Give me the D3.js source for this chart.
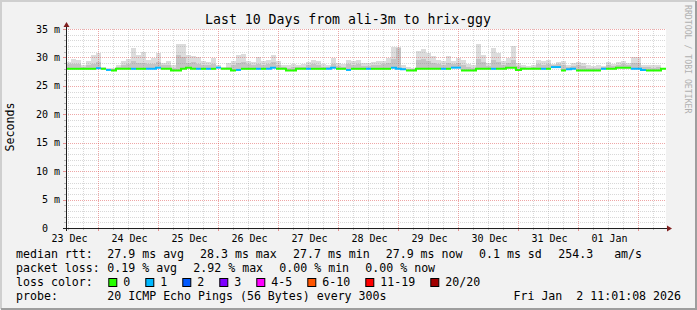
<!DOCTYPE html>
<html>
<head>
<meta charset="utf-8">
<script src="https://cdn.jsdelivr.net/npm/d3@7"></script>
<style>
  body { margin: 0; background: #f2f2f2; }
  text { font-family: "DejaVu Sans Mono", monospace; white-space: pre; }
</style>
</head>
<body>
<script>
// dimensions
var width = 697;
var height = 310;

var plot = { left: 66, right: 666, top: 29, bottom: 228 };

// time range of the graph (10 days, 2 hour columns)
var startTime = Date.UTC(2025, 11, 23, 11, 1, 8);
var endTime = Date.UTC(2026, 0, 2, 11, 1, 8);
var stepMs = 2 * 3600 * 1000;

// median rtt per column, ms
var median = [
  28.0, 28.0, 28.0, 28.0, 28.0, 28.0, 28.1, 28.0, 27.8, 27.7,
  28.0, 28.0, 28.0, 28.0, 28.0, 28.0, 28.0, 28.0, 28.2, 28.0,
  28.0, 27.7, 27.7, 28.0, 28.2, 28.0, 28.0, 28.0, 28.0, 28.0,
  28.2, 28.0, 28.0, 27.7, 27.8, 28.0, 28.0, 28.0, 28.0, 28.0,
  28.0, 28.2, 28.0, 28.0, 27.7, 27.7, 28.0, 28.0, 28.0, 28.0,
  28.0, 28.0, 28.0, 28.2, 28.0, 28.0, 27.8, 28.0, 28.0, 28.0,
  28.0, 28.0, 28.0, 28.0, 28.0, 28.2, 28.0, 27.9, 27.7, 27.7,
  28.0, 28.0, 28.0, 28.0, 28.0, 28.0, 28.0, 28.2, 28.2, 27.7,
  27.7, 27.7, 28.0, 28.0, 28.0, 28.0, 28.0, 28.0, 28.2, 28.2,
  27.8, 28.0, 28.0, 28.0, 28.0, 28.0, 28.0, 28.3, 28.3, 27.7,
  27.9, 28.0, 27.7, 27.7, 27.7, 27.7, 27.7, 28.0, 28.0, 28.0,
  28.2, 28.2, 28.2, 28.0, 28.0, 27.8, 27.7, 27.7, 27.7, 28.0
];

// lost pings (out of 20) per column
var loss = [
  0, 0, 0, 0, 0, 0, 1, 0, 1, 0,
  0, 0, 0, 1, 0, 0, 1, 1, 1, 0,
  0, 0, 0, 0, 0, 0, 1, 0, 1, 0,
  1, 0, 0, 0, 1, 0, 0, 0, 1, 0,
  1, 1, 0, 0, 0, 0, 0, 0, 1, 0,
  0, 0, 1, 1, 0, 0, 1, 0, 0, 0,
  1, 0, 0, 0, 0, 1, 1, 1, 0, 0,
  0, 0, 0, 0, 0, 1, 0, 1, 1, 0,
  0, 0, 0, 0, 0, 1, 0, 0, 0, 0,
  0, 0, 0, 0, 0, 1, 0, 1, 1, 0,
  1, 1, 0, 0, 0, 0, 0, 1, 0, 0,
  0, 0, 0, 1, 1, 1, 0, 0, 0, 0
];

// slowest ping per column, ms (top of the smoke)
var smokeMax = [
  29.2, 29.8, 29.6, 28.7, 29.3, 30.5, 30.8, 28.3, 28.2, 28.2,
  28.6, 29.4, 29.8, 31.6, 30.5, 31.0, 29.6, 29.9, 30.8, 29.0,
  29.3, 28.7, 32.4, 32.3, 30.5, 30.2, 30.0, 29.3, 29.2, 29.9,
  28.6, 28.3, 29.0, 29.3, 30.5, 30.6, 29.4, 29.2, 30.0, 29.3,
  29.6, 30.5, 29.3, 28.6, 28.7, 28.8, 28.7, 28.9, 29.2, 29.6,
  29.3, 28.9, 28.7, 29.9, 29.0, 28.8, 29.6, 29.3, 29.6, 29.0,
  29.0, 29.2, 29.4, 29.4, 29.9, 31.9, 31.9, 28.6, 28.3, 28.2,
  31.1, 31.4, 30.8, 30.2, 29.6, 29.3, 30.2, 29.4, 29.9, 29.5,
  28.9, 28.6, 32.3, 30.5, 29.0, 31.7, 30.8, 29.3, 29.9, 32.0,
  29.0, 28.6, 28.5, 28.6, 29.6, 29.3, 29.6, 28.8, 29.2, 29.4,
  28.7, 29.0, 29.2, 29.0, 28.6, 28.5, 28.6, 28.5, 29.2, 28.9,
  29.2, 29.3, 29.0, 30.0, 30.0, 28.7, 28.7, 28.6, 28.7, 28.0
];

// upper part of the dense smoke per column, ms
var smokeMid = [
  28.8, 28.9, 28.9, 28.4, 28.6, 28.9, 29.2, 28.2, 27.9, 27.9,
  28.3, 28.7, 28.8, 29.3, 29.0, 29.0, 28.8, 28.9, 29.2, 28.6,
  28.6, 28.2, 30.4, 30.0, 29.0, 29.2, 28.9, 28.7, 28.6, 28.8,
  28.4, 28.1, 28.4, 28.6, 29.0, 29.2, 28.8, 28.6, 28.9, 28.7,
  28.8, 29.2, 28.7, 28.3, 28.2, 28.3, 28.4, 28.4, 28.6, 28.8,
  28.7, 28.4, 28.4, 28.9, 28.5, 28.4, 28.8, 28.6, 28.8, 28.5,
  28.5, 28.6, 28.7, 28.8, 29.0, 29.8, 31.6, 28.2, 27.9, 27.9,
  29.6, 29.8, 29.4, 29.0, 28.8, 28.7, 29.0, 28.8, 29.0, 28.7,
  28.3, 28.2, 29.8, 29.2, 28.5, 29.6, 29.2, 28.7, 29.0, 29.5,
  28.5, 28.3, 28.2, 28.3, 28.8, 28.7, 28.8, 28.6, 28.8, 28.6,
  28.3, 28.5, 28.6, 28.5, 28.2, 28.1, 28.2, 28.3, 28.6, 28.5,
  28.7, 28.8, 28.6, 29.0, 29.1, 28.4, 28.3, 28.2, 28.3, 28.0
];

// y axis labels
var yTickValues = [0, 5, 10, 15, 20, 25, 30, 35];
var yTickLabels = ["0  ", "5 m", "10 m", "15 m", "20 m", "25 m", "30 m", "35 m"];

// legend
var lossLabels = ["0", "1", "2", "3", "4-5", "6-10", "11-19", "20/20"];
var lossColors = ["#26ff00", "#00b8ff", "#0059ff", "#7e00ff", "#ff00ff", "#ff5500", "#ff0000", "#a10000"];
var rttStats = ["27.9 ms avg", "28.3 ms max", "27.7 ms min", "27.9 ms now", "0.1 ms sd", "254.3   am/s"];
var lossStats = ["0.19 % avg", "2.92 % max", "0.00 % min", "0.00 % now"];

var title = "Last 10 Days from ali-3m to hrix-ggy";
var probeText = "20 ICMP Echo Pings (56 Bytes) every 300s";
var stampText = "Fri Jan  2 11:01:08 2026";

// create an svg to draw in
var svg = d3.select("body")
  .append("svg")
  .attr("width", width)
  .attr("height", height);

// background and 3d frame
svg.append("rect")
  .attr("width", width).attr("height", height)
  .attr("fill", "#f2f2f2");
svg.append("path")
  .attr("d", "M1,309V1H696")
  .attr("fill", "none").attr("stroke", "#cfcfcf").attr("stroke-width", 2);
svg.append("path")
  .attr("d", "M1,309H696V1")
  .attr("fill", "none").attr("stroke", "#9e9e9e").attr("stroke-width", 2);

// scales
var x = d3.scaleUtc()
  .domain([startTime, endTime])
  .range([plot.left, plot.right]);

var y = d3.scaleLinear()
  .domain([0, 35])
  .range([plot.bottom, plot.top]);

// white canvas
svg.append("rect")
  .attr("x", plot.left).attr("y", plot.top)
  .attr("width", plot.right - plot.left)
  .attr("height", plot.bottom - plot.top)
  .attr("fill", "#ffffff");

var cols = median.map(function(d, i) {
  return {
    t0: startTime + i * stepMs,
    t1: startTime + (i + 1) * stepMs,
    med: d,
    max: smokeMax[i],
    mid: smokeMid[i],
    loss: loss[i]
  };
});

// smoke: light gray for the tail, darker for the dense part
var smoke = svg.append("g").attr("shape-rendering", "crispEdges");
smoke.selectAll(".tail")
  .data(cols)
  .enter().append("rect")
  .attr("class", "tail")
  .attr("x", function(d) { return x(d.t0); })
  .attr("width", function(d) { return x(d.t1) - x(d.t0); })
  .attr("y", function(d) { return y(d.max); })
  .attr("height", function(d) { return Math.max(0, y(d.med) - y(d.max)); })
  .attr("fill", "#dcdcdc");
smoke.selectAll(".dense")
  .data(cols)
  .enter().append("rect")
  .attr("class", "dense")
  .attr("x", function(d) { return x(d.t0); })
  .attr("width", function(d) { return x(d.t1) - x(d.t0); })
  .attr("y", function(d) { return y(d.mid); })
  .attr("height", function(d) { return Math.max(0, y(d.med) - y(d.mid)); })
  .attr("fill", "#c4c4c4");

// grid
var grid = svg.append("g").attr("shape-rendering", "crispEdges");
var minorY = d3.range(0, 36);
grid.selectAll(".hminor")
  .data(minorY.filter(function(v) { return v % 5 != 0; }))
  .enter().append("line")
  .attr("x1", plot.left).attr("x2", plot.right)
  .attr("y1", function(d) { return Math.round(y(d)) + 0.5; })
  .attr("y2", function(d) { return Math.round(y(d)) + 0.5; })
  .attr("stroke", "rgba(143,143,143,0.35)")
  .attr("stroke-dasharray", "1,1");

var hoursX = x.ticks(d3.utcHour.every(6)).filter(function(t) { return t.getUTCHours() != 0; });
grid.selectAll(".vminor")
  .data(hoursX)
  .enter().append("line")
  .attr("x1", function(d) { return Math.round(x(d)) + 0.5; })
  .attr("x2", function(d) { return Math.round(x(d)) + 0.5; })
  .attr("y1", plot.top).attr("y2", plot.bottom)
  .attr("stroke", "rgba(143,143,143,0.35)")
  .attr("stroke-dasharray", "1,1");

grid.selectAll(".hmajor")
  .data(yTickValues.slice(1))
  .enter().append("line")
  .attr("x1", plot.left).attr("x2", plot.right)
  .attr("y1", function(d) { return Math.round(y(d)) + 0.5; })
  .attr("y2", function(d) { return Math.round(y(d)) + 0.5; })
  .attr("stroke", "rgba(222,79,79,0.5)")
  .attr("stroke-dasharray", "1,1");

var daysX = x.ticks(d3.utcDay.every(1));
grid.selectAll(".vmajor")
  .data(daysX)
  .enter().append("line")
  .attr("x1", function(d) { return Math.round(x(d)) + 0.5; })
  .attr("x2", function(d) { return Math.round(x(d)) + 0.5; })
  .attr("y1", plot.top).attr("y2", plot.bottom)
  .attr("stroke", "rgba(222,79,79,0.5)")
  .attr("stroke-dasharray", "1,1");

// median line, one path per run of equal loss
var runs = [];
cols.forEach(function(c) {
  var last = runs[runs.length - 1];
  if (last && last.loss == c.loss) {
    last.pts.push(c);
  } else {
    runs.push({ loss: c.loss, pts: [c] });
  }
});

var medLine = d3.line()
  .curve(d3.curveStepAfter)
  .x(function(d) { return x(d.t); })
  .y(function(d) { return y(d.v); });

svg.append("g").selectAll("path")
  .data(runs)
  .enter().append("path")
  .attr("d", function(r) {
    var pts = r.pts.map(function(c) { return { t: c.t0, v: c.med }; });
    var lastc = r.pts[r.pts.length - 1];
    pts.push({ t: lastc.t1, v: lastc.med });
    return medLine(pts);
  })
  .attr("fill", "none")
  .attr("stroke", function(r) { return lossColors[r.loss]; })
  .attr("stroke-width", 2);

// axes ticks
var ticks = svg.append("g").attr("shape-rendering", "crispEdges");
ticks.selectAll(".ytick")
  .data(minorY)
  .enter().append("line")
  .attr("x1", function(d) { return d % 5 == 0 ? plot.left - 3 : plot.left - 2; })
  .attr("x2", plot.left)
  .attr("y1", function(d) { return Math.round(y(d)) + 0.5; })
  .attr("y2", function(d) { return Math.round(y(d)) + 0.5; })
  .attr("stroke", function(d) { return d % 5 == 0 ? "rgba(222,79,79,0.6)" : "rgba(143,143,143,0.6)"; });
ticks.selectAll(".xtick")
  .data(x.ticks(d3.utcHour.every(6)))
  .enter().append("line")
  .attr("x1", function(d) { return Math.round(x(d)) + 0.5; })
  .attr("x2", function(d) { return Math.round(x(d)) + 0.5; })
  .attr("y1", plot.bottom)
  .attr("y2", function(d) { return d.getUTCHours() == 0 ? plot.bottom + 3 : plot.bottom + 2; })
  .attr("stroke", function(d) { return d.getUTCHours() == 0 ? "rgba(222,79,79,0.6)" : "rgba(143,143,143,0.6)"; });

// axis lines and arrows
ticks.append("line")
  .attr("x1", plot.left - 3).attr("x2", plot.right + 3)
  .attr("y1", plot.bottom + 0.5).attr("y2", plot.bottom + 0.5)
  .attr("stroke", "#1f1f1f");
ticks.append("line")
  .attr("x1", plot.left + 0.5).attr("x2", plot.left + 0.5)
  .attr("y1", plot.bottom + 3).attr("y2", plot.top - 3)
  .attr("stroke", "#1f1f1f");
svg.append("path")
  .attr("d", "M" + (plot.right + 1) + "," + (plot.bottom - 2.5) + "L" + (plot.right + 6) + "," + (plot.bottom + 0.5) + "L" + (plot.right + 1) + "," + (plot.bottom + 3.5) + "Z")
  .attr("fill", "#801f1f");
svg.append("path")
  .attr("d", "M" + (plot.left - 2.5) + "," + (plot.top - 2) + "L" + (plot.left + 0.5) + "," + (plot.top - 7) + "L" + (plot.left + 3.5) + "," + (plot.top - 2) + "Z")
  .attr("fill", "#801f1f");

// y labels
svg.selectAll(".ylab")
  .data(yTickValues)
  .enter().append("text")
  .attr("x", 60)
  .attr("y", function(d) { return y(d) + 3.5; })
  .attr("text-anchor", "end")
  .style("font-size", "10px")
  .text(function(d, i) { return yTickLabels[i]; });

// x labels at midday
svg.selectAll(".xlab")
  .data(x.ticks(d3.utcHour.every(6)).filter(function(t) { return t.getUTCHours() == 12; }))
  .enter().append("text")
  .attr("x", function(d) { return x(d) + 1; })
  .attr("y", 241.5)
  .attr("text-anchor", "middle")
  .style("font-size", "10px")
  .text(function(d) { return d3.utcFormat("%d %b")(d); });

// title and axis title
svg.append("text")
  .attr("x", 348).attr("y", 24)
  .attr("text-anchor", "middle")
  .style("font-size", "13.2px")
  .text(title);
svg.append("text")
  .attr("transform", "translate(14,127) rotate(-90)")
  .attr("text-anchor", "middle")
  .style("font-size", "11.6px")
  .text("Seconds");
svg.append("text")
  .attr("transform", "translate(685,5) rotate(90)")
  .attr("text-anchor", "start")
  .style("font-size", "8.2px")
  .attr("fill", "#b0b0b0")
  .text("RRDTOOL / TOBI OETIKER");

// legend rows
var legend = svg.append("g").style("font-size", "11.6px");
var rowY = [258, 272, 285.5, 300];

legend.append("text").attr("x", 16).attr("y", rowY[0]).text("median rtt:");
legend.selectAll(".rtt")
  .data(rttStats)
  .enter().append("text")
  .attr("x", function(d, i) { return [107.3, 200, 293, 385.7, 479, 558.3][i]; })
  .attr("y", rowY[0])
  .text(function(d) { return d; });

legend.append("text").attr("x", 16).attr("y", rowY[1]).text("packet loss:");
legend.selectAll(".pl")
  .data(lossStats)
  .enter().append("text")
  .attr("x", function(d, i) { return 107.3 + i * 86; })
  .attr("y", rowY[1])
  .text(function(d) { return d; });

legend.append("text").attr("x", 16).attr("y", rowY[2]).text("loss color:");
var bx = 108.3;
lossLabels.forEach(function(lab, i) {
  legend.append("rect")
    .attr("x", bx + 0.5).attr("y", 278.5)
    .attr("width", 8).attr("height", 8)
    .attr("fill", lossColors[i])
    .attr("stroke", "#000");
  legend.append("text")
    .attr("x", bx + 15).attr("y", rowY[2])
    .text(lab);
  bx = bx + 15 + lab.length * 7 + 15;
});

legend.append("text").attr("x", 16).attr("y", rowY[3]).text("probe:");
legend.append("text").attr("x", 107.3).attr("y", rowY[3]).text(probeText);
legend.append("text").attr("x", 681).attr("y", rowY[3]).attr("text-anchor", "end").text(stampText);
</script>
</body>
</html>
